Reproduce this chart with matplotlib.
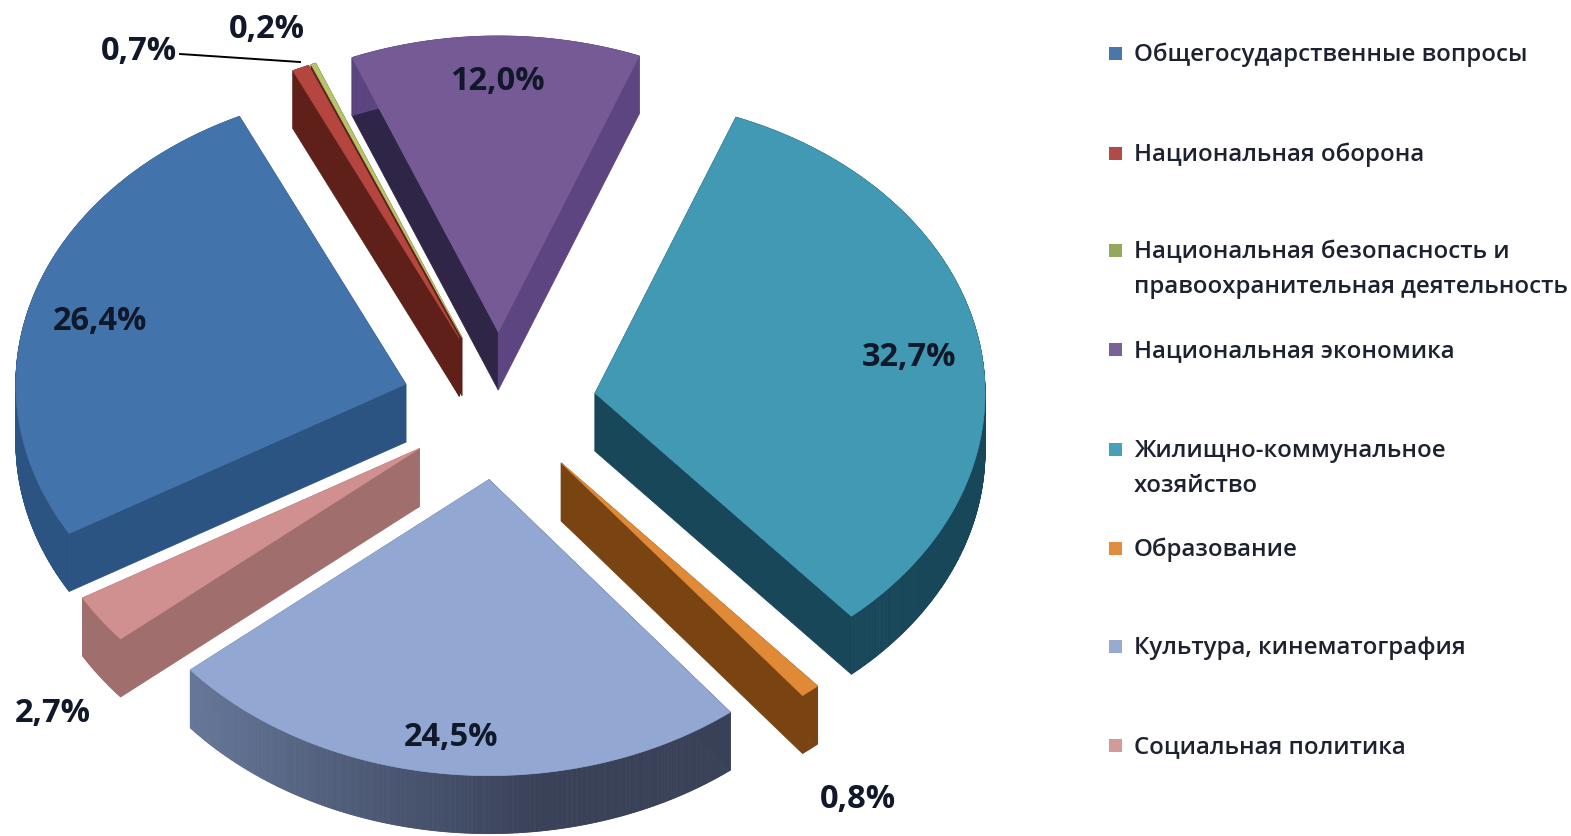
import numpy as np
import matplotlib
matplotlib.use("Agg")
import matplotlib.pyplot as plt
from matplotlib.colors import to_rgb
from matplotlib.patches import Polygon, Rectangle

categories = [
    "Общегосударственные вопросы",
    "Национальная оборона",
    "Национальная безопасность и\nправоохранительная деятельность",
    "Национальная экономика",
    "Жилищно-коммунальное\nхозяйство",
    "Образование",
    "Культура, кинематография",
    "Социальная политика",
]
values = [26.4, 0.7, 0.2, 12.0, 32.7, 0.8, 24.5, 2.7]
value_labels = ["26,4%", "0,7%", "0,2%", "12,0%", "32,7%", "0,8%", "24,5%", "2,7%"]

top_colors = ["#4373ab", "#b5453f", "#b4c66a", "#755a96", "#4199b4", "#e08a38", "#92a8d3", "#d09090"]
rim_from = ["#2d5e93", "#5e2018", "#5e2018", "#5c4580", "#19475a", "#7a4412", "#66789a", "#a06e6c"]
rim_to = ["#2b5482", "#5e2018", "#5e2018", "#5c4580", "#19475a", "#7a4412", "#394158", "#a06e6c"]
cut_start_colors = ["#2b5482", "#5e2018", "#5e2018", "#2f2647", "#19475a", "#7a4412", "#394158", "#a06e6c"]
cut_end_colors = ["#2b5482", "#5e2018", "#5e2018", "#5c4580", "#19475a", "#7a4412", "#66789a", "#a06e6c"]
legend_colors = ["#4a76ac", "#b04c48", "#93a95c", "#7a6296", "#46a0b8", "#e08d40", "#98aad0", "#d49a9a"]

# layout in pixels
CX, CY = 499, 406
RX, RY = 390, 296
EXPLODE = 0.25
DEPTH = 58
START = 239.7

label_xy = [(100, 321), (139, 51), (267, 30), (497, 82), (909, 358), (858, 799), (451, 738), (53, 713)]
legend_y = [53, 153, 250, 349, 449, 548, 646, 745]

FONT = "Open Sans"


def slice_outline(a0, a1):
    mid = np.radians((a0 + a1) / 2)
    ox = CX + EXPLODE * RX * np.sin(mid)
    oy = CY - EXPLODE * RY * np.cos(mid)
    ang = np.radians(np.linspace(a0, a1, max(int(a1 - a0) * 4, 2) + 1))
    xs = ox + RX * np.sin(ang)
    ys = oy - RY * np.cos(ang)
    return ox, oy, xs, ys


def mix(c0, c1, t):
    c0, c1 = np.array(to_rgb(c0)), np.array(to_rgb(c1))
    return tuple(c0 + (c1 - c0) * t)


def wall(ax, p0, p1, color, z):
    pts = [p0, p1, (p1[0], p1[1] + DEPTH), (p0[0], p0[1] + DEPTH)]
    ax.add_patch(Polygon(pts, closed=True, fc=color, ec=color, lw=0.6, zorder=z))


def draw_slice(ax, i, a0, a1, z):
    ox, oy, xs, ys = slice_outline(a0, a1)
    wall(ax, (ox, oy), (xs[0], ys[0]), cut_start_colors[i], z)
    wall(ax, (ox, oy), (xs[-1], ys[-1]), cut_end_colors[i], z)
    for k in range(len(xs) - 1):
        t = k / max(len(xs) - 2, 1)
        # clockwise, so on the bottom slice the rim stays dark up to about a third
        col = mix(rim_to[i], rim_from[i], np.clip((t - 0.35) / 0.65, 0, 1))
        wall(ax, (xs[k], ys[k]), (xs[k + 1], ys[k + 1]), col, z + 0.2)
    top = np.column_stack([np.r_[ox, xs], np.r_[oy, ys]])
    ax.add_patch(Polygon(top, closed=True, fc=top_colors[i], ec=top_colors[i], lw=0.5, zorder=z + 0.5))


fig = plt.figure(figsize=(15.71, 8.36), dpi=100)
ax = fig.add_axes([0, 0, 1, 1])
ax.set_xlim(0, 1571)
ax.set_ylim(836, 0)
ax.axis("off")

angles = START + np.r_[0, np.cumsum(values)] * 3.6
order = [3, 2, 1, 0, 4, 7, 5, 6]
for z, i in enumerate(order):
    draw_slice(ax, i, angles[i], angles[i + 1], z + 2)

ax.plot([180, 300], [54, 62], color="black", lw=1.4, zorder=20)

for txt, (x, y) in zip(value_labels, label_xy):
    ax.text(x, y, txt, fontsize=23.5, fontweight="bold", family=FONT, color="#10182a",
            ha="center", va="center", zorder=30)

for name, y, col in zip(categories, legend_y, legend_colors):
    ax.add_patch(Rectangle((1109, y - 6), 13, 13, fc=col, ec="none", zorder=10))
    ax.text(1134, y - 10, name, fontsize=17.3, fontweight="semibold", family=FONT, color="#1c2230",
            ha="left", va="top", linespacing=1.6, zorder=30)

fig.savefig("out.png", dpi=100, facecolor="white")
